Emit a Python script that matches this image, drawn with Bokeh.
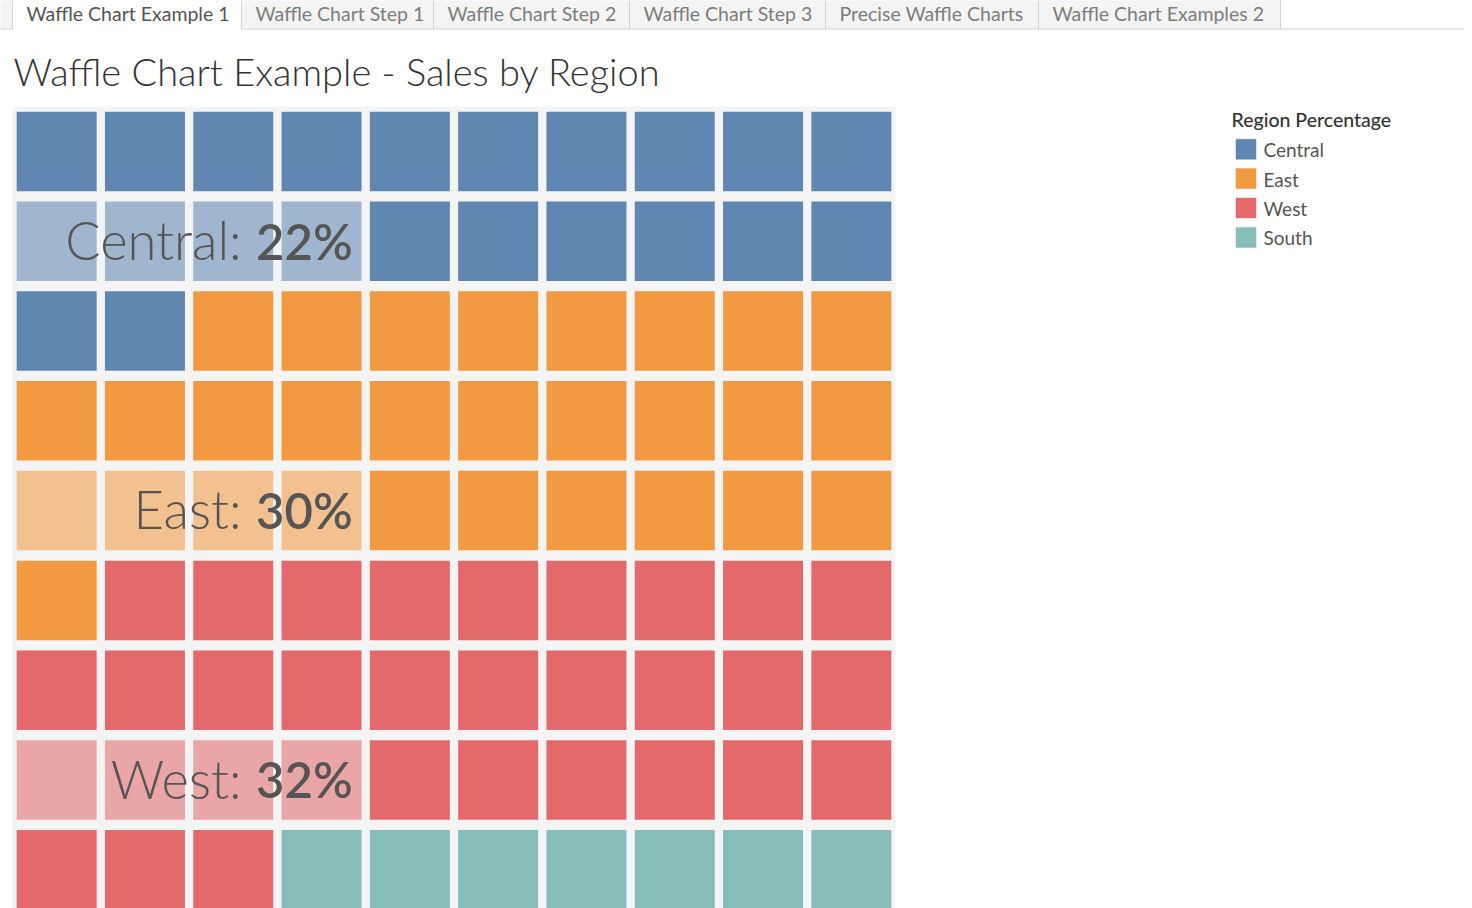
from bokeh.plotting import figure
from bokeh.models import Range1d
from bokeh.embed import file_html
from bokeh.resources import INLINE
from bokeh.core.properties import value

# ---------------- data ----------------
regions = ["Central", "East", "West", "South"]
percentages = [22, 30, 32, 16]
tile_counts = [22, 29, 32, 17]
colors = ["#5f87b1", "#f19a42", "#e3696b", "#87bdb9"]
label_rows = [1, 4, 7, 9]
tab_labels = ["Waffle Chart Example 1", "Waffle Chart Step 1", "Waffle Chart Step 2",
              "Waffle Chart Step 3", "Precise Waffle Charts", "Waffle Chart Examples 2"]
title_text = "Waffle Chart Example - Sales by Region"
legend_title = "Region Percentage"

# ---------------- layout constants ----------------
FONT = "Lato"
FONT_LIGHT = "Lato Light"
FONT_SEMI = "Lato Semibold"
FONT_MED = "Lato Medium"
W, H = 1464, 908
GRID_COLS = 10
VISIBLE_ROWS = 9
GX0, GY0 = 12.0, 106.0        # px of grid background top-left
PX, PY = 88.3, 89.8           # cell pitch in px
CELL_W, CELL_H = 80.0 / PX, 79.5 / PY
tab_edges = [12, 241, 433, 629, 825, 1038, 1280]
TAB_BOTTOM = 28.5


def bl(y, size):
    # baseline correction for text placement
    return y - 0.4 * size


p = figure(width=W, height=H, output_backend="svg", toolbar_location=None,
           x_range=Range1d(0, W), y_range=Range1d(H, 0),
           min_border=0, outline_line_color=None, background_fill_color="white",
           border_fill_color="white")
p.xaxis.visible = False
p.yaxis.visible = False
p.grid.visible = False

p.extra_x_ranges = {"gx": Range1d((0 - GX0) / PX, (W - GX0) / PX)}
p.extra_y_ranges = {"gy": Range1d((H - GY0) / PY, (0 - GY0) / PY)}

# ---------------- tab strip ----------------
p.quad(left=[-5], right=[tab_edges[0]], top=[-5], bottom=[TAB_BOTTOM],
       fill_color="#f4f4f4", line_color=None)
p.quad(left=tab_edges[1:-1], right=tab_edges[2:], top=[-5] * (len(tab_edges) - 2),
       bottom=[TAB_BOTTOM] * (len(tab_edges) - 2), fill_color="#f4f4f4", line_color=None)
p.segment(x0=tab_edges, y0=[-5] * len(tab_edges), x1=tab_edges, y1=[TAB_BOTTOM] * len(tab_edges),
          line_color="#d2d2d2", line_width=1)
p.segment(x0=[-5, tab_edges[1]], y0=[TAB_BOTTOM] * 2, x1=[tab_edges[0], W + 10], y1=[TAB_BOTTOM] * 2,
          line_color="#d2d2d2", line_width=1)
tab_text_x = [e + 14 for e in tab_edges[:-1]]
tab_colors = ["#555555"] + ["#7d7d7d"] * (len(tab_labels) - 1)
p.text(x=tab_text_x, y=[bl(21, 19.5)] * len(tab_labels), text=tab_labels, text_color=tab_colors,
       text_font=value(FONT), text_font_size="19.5px", text_baseline="alphabetic",
       text_align="left")

# ---------------- title ----------------
p.text(x=[13], y=[bl(86, 38)], text=[title_text], text_color="#333333", text_font=value(FONT_LIGHT),
       text_font_size="38px", text_baseline="alphabetic", text_align="left")

# ---------------- waffle ----------------
p.quad(left=[0], right=[GRID_COLS], top=[0], bottom=[10], fill_color="#f4f4f4",
       line_color=None, x_range_name="gx", y_range_name="gy")

cx, cy, cc, ca = [], [], [], []
i = 0
for reg, n, col in zip(regions, tile_counts, colors):
    for _ in range(n):
        r, c = divmod(i, GRID_COLS)
        cx.append(c + 0.5)
        cy.append(r + 0.5)
        cc.append(col)
        ca.append(0.57 if (r in label_rows[:3] and c < 4) else 1.0)
        i += 1
p.rect(x=cx, y=cy, width=CELL_W, height=CELL_H, fill_color=cc, fill_alpha=ca,
       line_color=None, x_range_name="gx", y_range_name="gy")

# labels
vis = [k for k, lr in enumerate(label_rows) if lr < VISIBLE_ROWS]
lab_y_pct = [label_rows[k] + 0.5 + (19 - 0.4 * 49) / PY for k in vis]
lab_y_name = [label_rows[k] + 0.5 + (19 - 0.4 * 52.5) / PY for k in vis]
p.text(x=[4] * len(vis), y=lab_y_pct, text=[f"{percentages[k]}%" for k in vis],
       x_offset=-13, text_color="#555555", text_font=value(FONT_SEMI),
       text_font_size="49px", text_align="right", text_baseline="alphabetic",
       x_range_name="gx", y_range_name="gy")
p.text(x=[4] * len(vis), y=lab_y_name, text=[f"{regions[k]}:" for k in vis],
       x_offset=-124, text_color="#555555", text_font=value(FONT_LIGHT),
       text_font_size="52.5px", text_align="right", text_baseline="alphabetic",
       x_range_name="gx", y_range_name="gy")

# ---------------- legend ----------------
LX, LY0, LSTEP = 1245.5, 148.7, 29.4
p.text(x=[1231], y=[bl(126.7, 19.5)], text=[legend_title], text_color="#333333",
       text_font=value(FONT_MED), text_font_size="19.5px", text_baseline="alphabetic")
ly = [LY0 + k * LSTEP for k in range(len(regions))]
p.rect(x=[LX] * len(regions), y=ly, width=20, height=20, fill_color=colors,
       line_color=colors, line_width=0.5)
p.text(x=[1263] * len(regions), y=[bl(v + 8, 19) for v in ly], text=regions, text_color="#555555",
       text_font=value(FONT), text_font_size="19px", text_baseline="alphabetic")

open("out.html", "w").write(file_html(p, INLINE))
